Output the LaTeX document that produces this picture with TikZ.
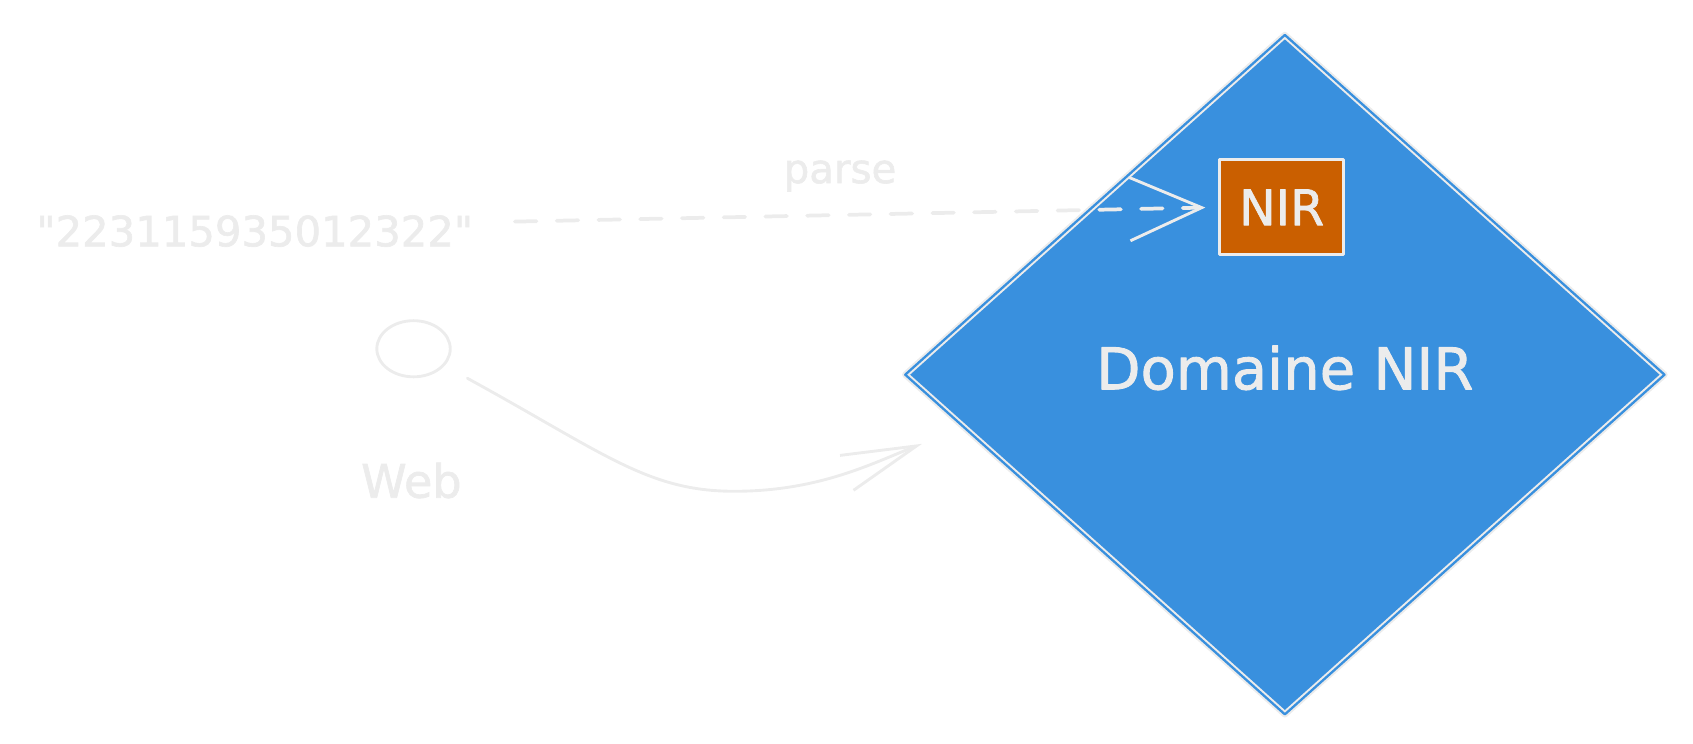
\documentclass[tikz,border=0pt]{standalone}
\usepackage{fontspec}
\newfontfamily\handfont{DejaVu Sans}[FakeBold=1.5]
\usetikzlibrary{shapes.geometric,arrows.meta}

\definecolor{sketchgray}{RGB}{236,236,236}
\definecolor{domblue}{RGB}{57,144,222}
\definecolor{nirorange}{RGB}{202,95,0}

\tikzset{
  sketchline/.style={draw=sketchgray, line width=2pt, line join=round, line cap=round},
  handtext/.style={text=sketchgray, inner sep=0.75pt},
  parseflow/.style={sketchline, line width=2.6pt, dash pattern=on 15pt off 14pt,
    -{Straight Barb[length=50pt,width=44pt,line width=2pt]}},
  webflow/.style={sketchline,
    -{Straight Barb[length=52pt,width=26pt,line width=2pt]}},
}

\begin{document}
\begin{tikzpicture}[x=0.75pt,y=0.75pt,yscale=-1,xscale=1,font=\handfont]
\path[use as bounding box] (0,0) rectangle (1568,689);

%Shape: Diamond
\node [diamond, sketchline, line width=1.4pt, double=domblue, double distance=1.6pt,
  fill=domblue, inner sep=0pt, minimum width=528pt, minimum height=472.5pt, text depth=10pt,
  text=sketchgray, font=\handfont\fontsize{40pt}{45pt}\selectfont] (domaine) at (1190,347) {Domaine NIR};
%Shape: Rectangle
\node [rectangle, sketchline, fill=nirorange, minimum width=86pt, minimum height=66pt,
  text=sketchgray, font=\handfont\fontsize{34pt}{39pt}\selectfont] (nir) at (1187,192) {NIR};
%Shape: Ellipse
\node [ellipse, sketchline, minimum width=51pt, minimum height=39pt] (client) at (383,323) {};
\coordinate (webin) at ([shift={(17,64)}]domaine.west);

% Text Node
\node [handtext, font=\handfont\fontsize{29pt}{34pt}\selectfont] (nirstr) at (236,214) {"223115935012322"};
% Text Node
\node [handtext, font=\handfont\fontsize{28pt}{33pt}\selectfont] (parselbl) at (778,163) {parse};
% Text Node
\node [handtext, font=\handfont\fontsize{32pt}{37pt}\selectfont] (weblbl) at (381,445) {Web};

%Straight Lines
\draw [parseflow, shorten <=28pt, shorten >=9pt] ([yshift=-6]nirstr.east) -- (nir.west);
%Curve Lines
\draw [webflow, shorten <=18pt] (client) .. controls (560,420) and (600,455) .. (680,455)
  .. controls (760,455) and (810,428) .. (webin);

\end{tikzpicture}
\end{document}
